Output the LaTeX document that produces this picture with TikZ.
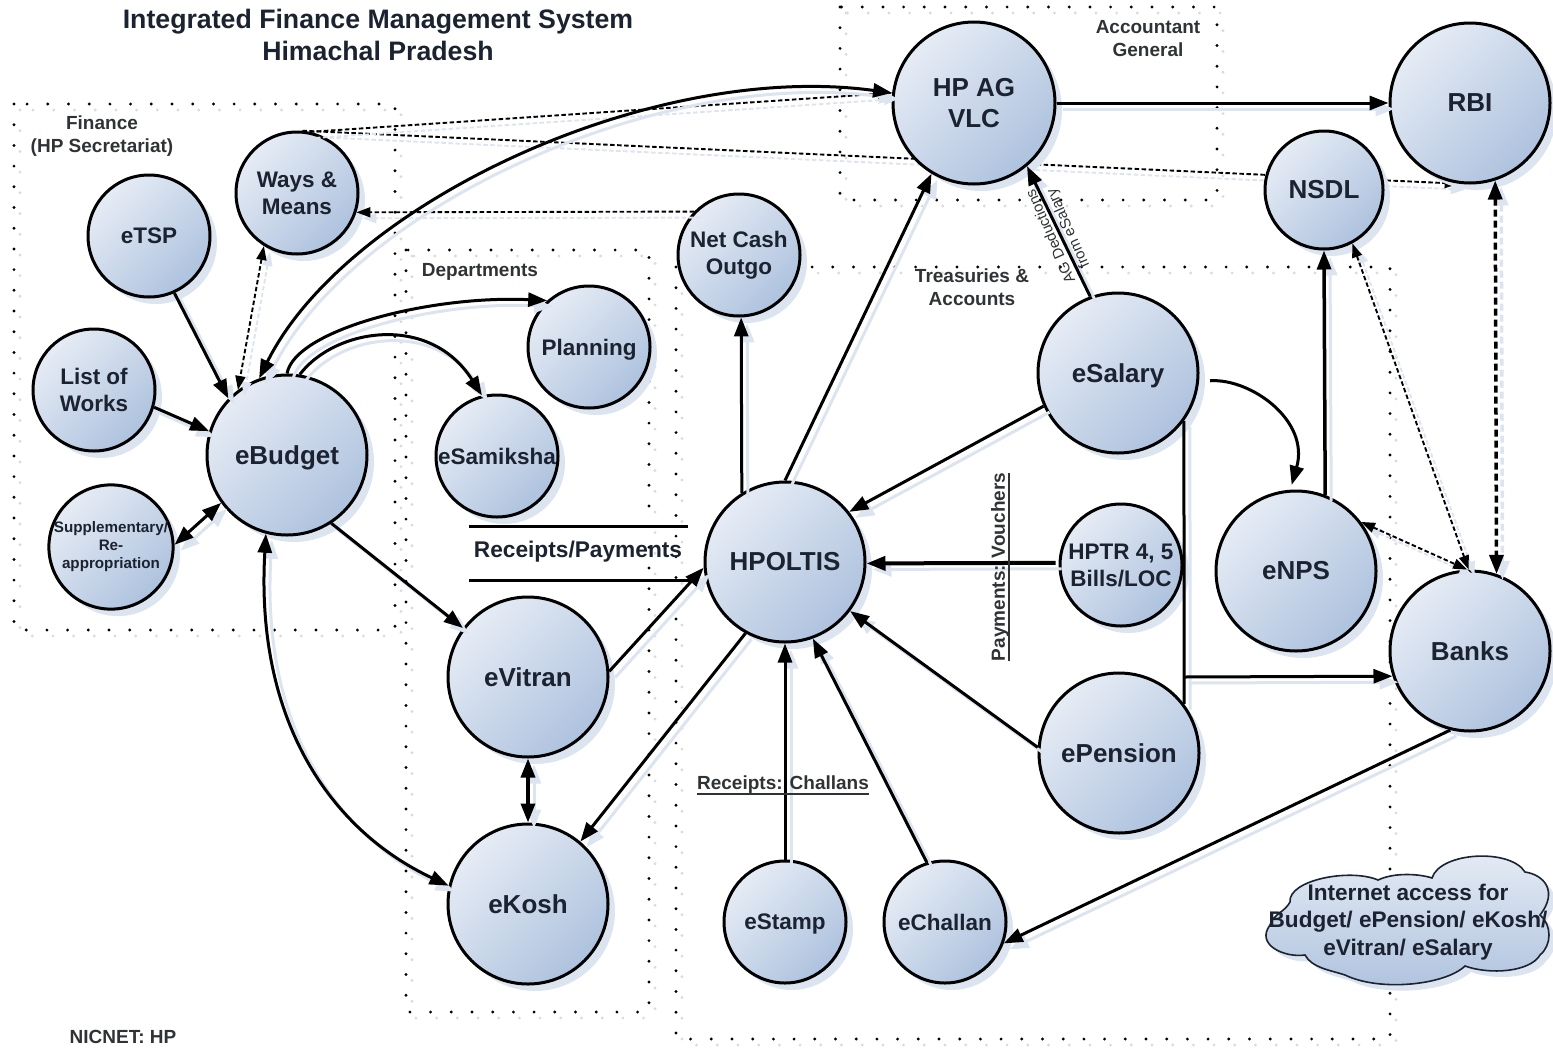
\documentclass[tikz,border=0pt]{standalone}
\usepackage{fontspec}
\setmainfont{Liberation Sans}
\usetikzlibrary{arrows.meta,shadows,calc}
\pgfdeclarelayer{back}
\pgfsetlayers{back,main}
\definecolor{shadc}{HTML}{DCE4F0}
\definecolor{bublight}{HTML}{E6ECF5}
\definecolor{bubdark}{HTML}{AEC2DE}
\definecolor{ink}{HTML}{1B2230}
\definecolor{labelc}{HTML}{303336}
\newcommand{\fsz}[2]{\fontsize{#1}{#2}\selectfont}
\tikzset{
  bub/.style={circle,draw=black,line width=3pt,inner sep=0pt,minimum size=#1*2pt,
    top color=bublight,bottom color=bubdark,shading angle=45,
    drop shadow={shadow xshift=7pt,shadow yshift=-7pt,fill=shadc,opacity=1},
    text=ink,align=center,font=\bfseries\fsz{26}{31}},
  smalltxt/.style={font=\bfseries\fsz{22.5}{27}},
  nodepth/.style={text depth=0pt},
  lab/.style={text=labelc,align=center,inner sep=0pt,font=\bfseries\fsz{19}{23}},
  shad/.style={preaction={draw=shadc,transform canvas={shift={(6pt,-6pt)}},#1}},
  bigtip/.style={>={Triangle[length=19pt,width=14pt]}},
  smalltip/.style={>={Triangle[length=14pt,width=10pt]}},
  arr/.style={line width=3pt,bigtip,->,shad={line width=3pt,bigtip,->}},
  arrboth/.style={line width=3pt,bigtip,<->,shad={line width=3pt,bigtip,<->}},
  dashpat/.style={line width=1.9pt,dash pattern=on 4.5pt off 2.5pt,smalltip},
  dashone/.style={dashpat,->,shad={dashpat,->}},
  dashtwo/.style={dashpat,<->,shad={dashpat,<->}},
  heavypat/.style={line width=3.5pt,dash pattern=on 7pt off 4pt,bigtip},
  dashheavy/.style={heavypat,<->,shad={heavypat,<->}},
  dotpat/.style={line width=3.2pt,line cap=round,dash pattern=on 0pt off 20.7pt},
  dotbox/.style={dotpat,preaction={draw=black!14,dotpat,transform canvas={shift={(6pt,-6pt)}}}},
  plainline/.style={line width=3pt},
  ulline/.style={line width=1.5pt,draw=labelc}
}
\begin{document}
\begin{tikzpicture}[x=1pt,y=-1pt]
\useasboundingbox (0,0) rectangle (1553,1047);

% nodes
\node[bub=81] (ag) at (974,103) {HP AG\\VLC};
\node[bub=80] (rbi) at (1470,103) {RBI};
\node[bub=59] (nsdl) at (1324,190) {NSDL};
\node[bub=61,smalltxt] (ways) at (297,193) {Ways \&\\Means};
\node[bub=61,smalltxt] (etsp) at (149,236) {eTSP};
\node[bub=61,smalltxt] (works) at (94,390) {List of\\Works};
\node[bub=80,nodepth] (ebudget) at (287,455) {eBudget};
\node[bub=61,font=\bfseries\fsz{15.2}{18}] (supp) at (111,547) {Supplementary/\\Re-\\appropriation};
\node[bub=61,smalltxt] (netcash) at (739,255) {Net Cash\\Outgo};
\node[bub=61,smalltxt,nodepth] (planning) at (589,347) {Planning};
\node[bub=61,smalltxt] (esam) at (497,456) {eSamiksha};
\node[bub=80,nodepth] (esalary) at (1118,373) {eSalary};
\node[bub=80] (hpoltis) at (785,562) {HPOLTIS};
\node[bub=61,smalltxt] (hptr) at (1121,565) {HPTR 4, 5\\Bills/LOC};
\node[bub=80] (enps) at (1296,571) {eNPS};
\node[bub=80] (banks) at (1470,651) {Banks};
\node[bub=80] (epension) at (1119,753) {ePension};
\node[bub=80] (evitran) at (528,677) {eVitran};
\node[bub=80] (ekosh) at (528,904) {eKosh};
\node[bub=61,smalltxt,nodepth] (estamp) at (785,922) {eStamp};
\node[bub=61,smalltxt] (echallan) at (945,922) {eChallan};

% dotted boxes and the connector that passes behind the circles
\begin{pgfonlayer}{back}
  \draw[dotbox] (14,104) rectangle (395,630);
  \draw[dotbox] (840,7) rectangle (1217,200);
  \draw[dotbox] (406,250) rectangle (649,1012);
  \draw[dotbox] (676,267) rectangle (1390,1039);
  \draw[dashone] (ways.85) -- (rbi.262);
\end{pgfonlayer}

% dashed connectors
\draw[dashone] (ways.78) -- (ag.173);
\draw[dashone] (netcash.136) -- (ways.-18);
\draw[dashtwo] (ways.238) -- (ebudget.127);
\draw[dashtwo] (nsdl.-62) -- (banks.91);
\draw[dashtwo] (enps.37) -- (banks.92);
\draw[dashheavy] (rbi.-72) -- (banks.71);

% solid connectors
\draw[arr] (etsp.-66) -- (ebudget.136);
\draw[arr] (works.-16) -- (ebudget.163);
\draw[arrboth] (supp.2) -- (ebudget.216);
\draw[arrboth] (ebudget.110) .. controls (345,205) and (650,60) .. (ag.173);
\draw[arr] (ebudget.90) .. controls (295,330) and (430,295) .. (planning.132);
\draw[arr] (ebudget.81) .. controls (335,328) and (430,313) .. (esam.104);
\draw[arr] (ebudget.-57) -- (evitran.143);
\draw[arrboth] (ebudget.255) .. controls (255,720) and (330,830) .. (ekosh.167);
\draw[arr] (evitran.4) -- (hpoltis.184);
\draw[arrboth,line width=3.5pt] (evitran.270) -- (ekosh.90);
\draw[arr] (hpoltis.241) -- (ekosh.50);
\draw[arr] (hpoltis.122) -- (netcash.-88);
\draw[arr] (hpoltis.90) -- (ag.239);
\draw[arr] (esalary.110) -- (ag.-50);
\draw[arr] (ag.0) -- (rbi.180);
\draw[arr] (esalary.204) -- (hpoltis.38);
\draw[arr,line width=4pt,shorten <=3pt] (hptr.178) -- (hpoltis.-1);
\draw[arr] (epension.176) -- (hpoltis.-37);
\draw[arr] (estamp.90) -- (hpoltis.270);
\draw[arr] (echallan.107) -- (hpoltis.-70);
\draw[arr] (banks.256) -- (echallan.-20);
\draw[arr,line width=3.5pt] (enps.69) -- (nsdl.270);
\draw[line width=3pt,bigtip,->,shorten <=11pt,shorten >=5pt] (esalary.-6) .. controls (1250,378) and (1310,420) .. (enps.94);
\draw[plainline,shad={line width=3pt}] (esalary.-36) -- (epension.37);
\coordinate (bus) at (1184,677);
\draw[arr] (bus) -- (banks.198);

% receipts / payments bars
\coordinate (rp1a) at (469,526); \coordinate (rp1b) at (688,526);
\coordinate (rp2a) at (469,580); \coordinate (rp2b) at (692,580);
\draw[plainline] (rp1a) -- (rp1b);
\draw[plainline] (rp2a) -- (rp2b);
\node[text=ink,inner sep=0pt,font=\bfseries\fsz{22.7}{25}] (rplabel) at (578,552) {Receipts/Payments};

% labels
\node[text=ink,align=center,inner sep=0pt,font=\bfseries\fsz{26.7}{32}] (title) at (378,35) {Integrated Finance Management System\\Himachal Pradesh};
\node[lab] (lfin) at (102,136) {Finance\\(HP Secretariat)};
\node[lab] (lacc) at (1148,39) {Accountant\\General};
\node[lab] (ldep) at (480,272) {Departments};
\node[lab] (ltre) at (972,287) {Treasuries \&\\Accounts};
\node[lab] (lrec) at (783,785) {Receipts: Challans};
\draw[ulline] (lrec.south west) -- (lrec.south east);
\node[lab,rotate=90] (lpay) at (1000,567) {Payments: Vouchers};
\draw[ulline] (lpay.south west) -- (lpay.south east);
\node[lab] (lnic) at (123,1037) {NICNET: HP};
\node[text=labelc,rotate=114,align=center,inner sep=0pt,font=\fsz{15}{19}] (lded) at (1060,232) {AG Deductions\\from eSalary};

% cloud
\draw[line width=1.6pt,draw=ink,top color=bublight,bottom color=bubdark,
      drop shadow={shadow xshift=6pt,shadow yshift=-6pt,fill=shadc,opacity=1}]
  (1290,902) .. controls (1288,880) and (1350,868) .. (1378,880)
  .. controls (1395,872) and (1420,874) .. (1432,878)
  .. controls (1440,852) and (1510,848) .. (1525,872)
  .. controls (1545,875) and (1558,892) .. (1540,915)
  .. controls (1552,925) and (1552,945) .. (1540,955)
  .. controls (1530,972) and (1490,975) .. (1465,966)
  .. controls (1445,985) and (1380,992) .. (1345,975)
  .. controls (1330,970) and (1312,968) .. (1305,955)
  .. controls (1285,958) and (1255,945) .. (1270,925)
  .. controls (1272,915) and (1285,912) .. (1290,902) -- cycle;
\node[text=ink,align=center,inner sep=0pt,font=\bfseries\fsz{22.6}{27.5}] (cloudtext) at (1408,922) {Internet access for\\Budget/ ePension/ eKosh/\\eVitran/ eSalary};
\end{tikzpicture}
\end{document}
